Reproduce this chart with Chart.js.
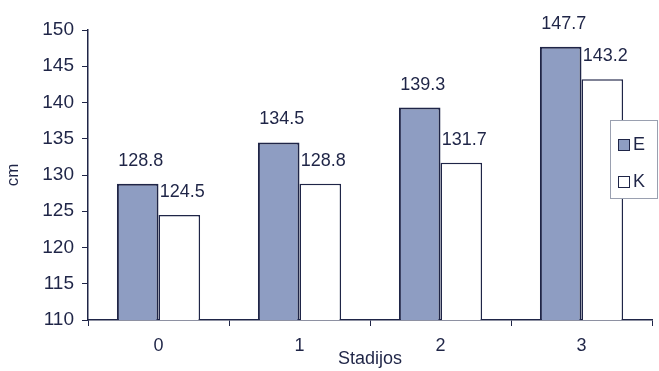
<!DOCTYPE html>
<html>
<head>
<meta charset="utf-8">
<script src="https://cdn.jsdelivr.net/npm/chart.js@4/dist/chart.umd.min.js"></script>
<style>
  html, body { margin: 0; padding: 0; background: #fff; }
  #wrap { width: 659px; height: 371px; }
</style>
</head>
<body>
<div id="wrap"><canvas id="chart"></canvas></div>
<script>
// data
const stages = ['0', '1', '2', '3'];
const seriesE = [128.8, 134.5, 139.3, 147.7];
const seriesK = [124.5, 128.8, 131.7, 143.2];
const yTicks = [110, 115, 120, 125, 130, 135, 140, 145, 150];

const ink = '#1f2547';
const fillE = '#8e9dc2';
const fontFamily = '"Liberation Sans", Arial, sans-serif';

// value labels above each bar
const valueLabels = {
    id: 'valueLabels',
    afterDatasetsDraw(chart) {
        const ctx = chart.ctx;
        ctx.save();
        ctx.font = '18px ' + fontFamily;
        ctx.fillStyle = ink;
        ctx.textAlign = 'center';
        ctx.textBaseline = 'alphabetic';
        chart.data.datasets.forEach((ds, i) => {
            chart.getDatasetMeta(i).data.forEach((bar, j) => {
                ctx.fillText(ds.data[j].toFixed(1), bar.x + 3, bar.y - 18);
            });
        });
        ctx.restore();
    }
};

// small boxed legend that sits over the plot, at the right
const boxLegend = {
    id: 'boxLegend',
    afterDraw(chart) {
        const ctx = chart.ctx;
        const x = 610, y = 120, w = 48, h = 79;
        ctx.save();
        ctx.fillStyle = '#fff';
        ctx.fillRect(x, y, w, h);
        ctx.strokeStyle = '#9aa0b0';
        ctx.lineWidth = 1;
        ctx.strokeRect(x + 0.5, y + 0.5, w - 1, h - 1);
        ctx.font = '18px ' + fontFamily;
        ctx.textBaseline = 'middle';
        chart.data.datasets.forEach((ds, i) => {
            const cy = y + 25 + i * 37;
            ctx.fillStyle = ds.backgroundColor;
            ctx.fillRect(x + 8, cy - 6, 12, 12);
            ctx.strokeStyle = ink;
            ctx.lineWidth = 1;
            ctx.strokeRect(x + 8.5, cy - 5.5, 11, 11);
            ctx.fillStyle = ink;
            ctx.fillText(ds.label, x + 23, cy);
        });
        ctx.restore();
    }
};

new Chart(document.getElementById('chart'), {
    type: 'bar',
    data: {
        labels: stages,
        datasets: [
            {
                label: 'E',
                data: seriesE,
                backgroundColor: fillE,
                borderColor: ink,
                borderWidth: 2,
                borderSkipped: 'bottom',
                categoryPercentage: 0.59,
                barPercentage: 1
            },
            {
                label: 'K',
                data: seriesK,
                backgroundColor: '#ffffff',
                borderColor: ink,
                borderWidth: 1.5,
                borderSkipped: 'bottom',
                categoryPercentage: 0.59,
                barPercentage: 1
            }
        ]
    },
    options: {
        responsive: true,
        maintainAspectRatio: false,
        animation: false,
        layout: { padding: { top: 30, right: 7, left: 0, bottom: 0 } },
        plugins: {
            legend: { display: false },
            tooltip: { enabled: false }
        },
        scales: {
            x: {
                offset: true,
                grid: {
                    offset: true,
                    drawOnChartArea: false,
                    drawTicks: true,
                    tickLength: 6,
                    color: ink
                },
                border: { color: ink, width: 1.5 },
                ticks: {
                    color: ink,
                    padding: 9,
                    font: { family: fontFamily, size: 18 }
                },
                title: {
                    display: true,
                    text: 'Stadijos',
                    color: ink,
                    font: { family: fontFamily, size: 18 },
                    padding: { top: 0, bottom: 1 }
                },
                afterFit(scale) { scale.height = 51; }
            },
            y: {
                min: 110,
                max: 150,
                afterBuildTicks(scale) {
                    scale.ticks = yTicks.map(v => ({ value: v }));
                },
                grid: {
                    drawOnChartArea: false,
                    drawTicks: true,
                    tickLength: 6,
                    color: ink
                },
                border: { color: ink, width: 1.5 },
                ticks: {
                    color: ink,
                    padding: 8,
                    font: { family: fontFamily, size: 19 }
                },
                title: {
                    display: true,
                    text: 'cm',
                    color: ink,
                    font: { family: fontFamily, size: 17 },
                    padding: { top: 3, bottom: 0 }
                },
                afterFit(scale) { scale.width = 88; }
            }
        }
    },
    plugins: [valueLabels, boxLegend]
});
</script>
</body>
</html>
